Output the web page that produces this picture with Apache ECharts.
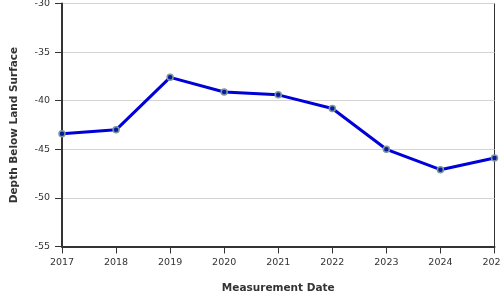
<!DOCTYPE html>
<html><head><meta charset="utf-8">
<script src="https://cdn.jsdelivr.net/npm/echarts@6/dist/echarts.min.js"></script>
<style>html,body{margin:0;padding:0;background:#fff}#c{width:500px;height:300px}</style>
</head><body><div id="c"></div>
<script>
const years = ['2017','2018','2019','2020','2021','2022','2023','2024','2025'];
const depth = [-43.4, -43.0, -37.6, -39.1, -39.4, -40.8, -45.0, -47.1, -45.9];
const yTicks = { min: -55, max: -30, interval: 5 };

const chart = echarts.init(document.getElementById('c'), null, {renderer: 'canvas'});
const font = 'DejaVu Sans';
chart.setOption({
  animation: false,
  grid: { left: 62, right: 5.5, top: 3.5, bottom: 53.5, containLabel: false, outerBoundsMode: 'none',
          show: true, borderColor: '#333', borderWidth: 1, backgroundColor: 'transparent' },
  xAxis: {
    type: 'category', data: years, boundaryGap: false,
    name: 'Measurement Date', nameLocation: 'middle', nameGap: 36,
    nameTextStyle: { fontFamily: font, fontWeight: 'bold', fontSize: 10.5, color: '#333' },
    axisLine: { lineStyle: { color: '#333', width: 2 } },
    axisTick: { alignWithLabel: true, length: 7, lineStyle: { color: '#333', width: 1 } },
    axisLabel: { fontFamily: font, fontSize: 9.5, color: '#333', margin: 11, interval: 0 },
    splitLine: { show: false }
  },
  yAxis: {
    type: 'value', min: yTicks.min, max: yTicks.max, interval: yTicks.interval,
    name: 'Depth Below Land Surface', nameLocation: 'middle', nameGap: 42, nameRotate: 90,
    nameTextStyle: { fontFamily: font, fontWeight: 'bold', fontSize: 10.5, color: '#333' },
    axisLine: { show: true, lineStyle: { color: '#333', width: 2 } },
    axisTick: { show: true, length: 7, lineStyle: { color: '#333', width: 1 } },
    axisLabel: { fontFamily: font, fontSize: 9.5, color: '#333', margin: 12 },
    splitLine: { show: true, lineStyle: { color: '#d4d4d4', width: 1 } }
  },
  series: [{
    type: 'line', data: depth,
    lineStyle: { color: '#0000d8', width: 3 },
    symbol: 'circle', symbolSize: 6,
    itemStyle: { color: '#0a1aa0', borderColor: '#7f9a9a', borderWidth: 1.5 },
    z: 5
  }]
});
</script></body></html>
